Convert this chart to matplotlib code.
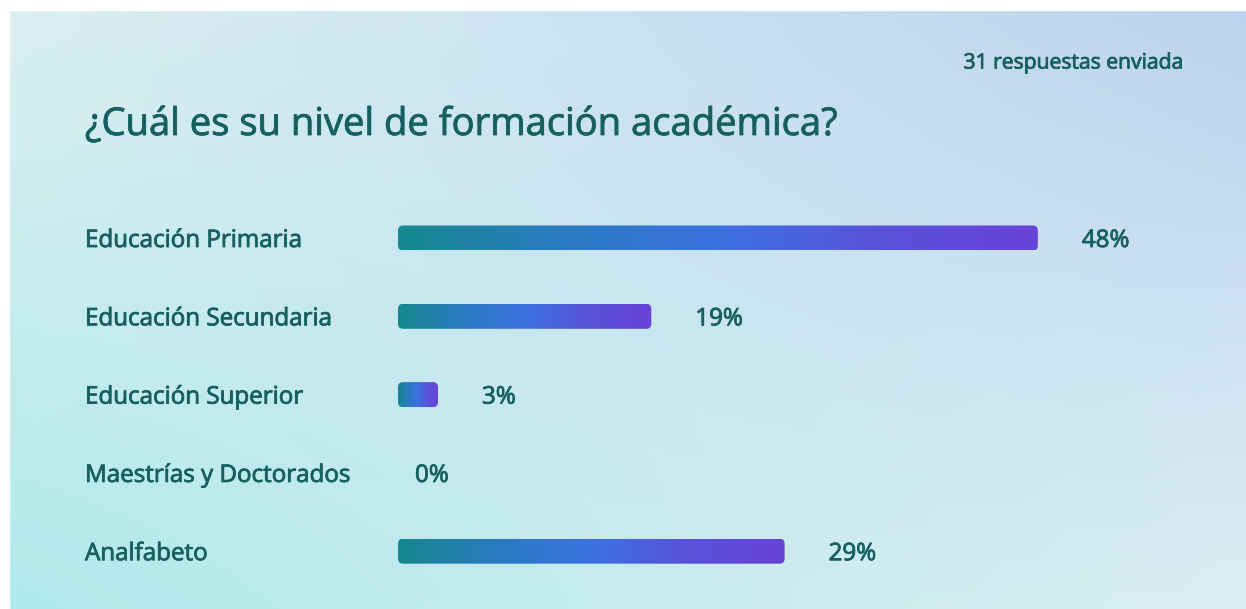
import matplotlib.pyplot as plt
import matplotlib.patheffects as pe
import numpy as np
from matplotlib.patches import FancyBboxPatch, Rectangle
from matplotlib.colors import LinearSegmentedColormap

categories = ["Educación Primaria", "Educación Secundaria", "Educación Superior",
              "Maestrías y Doctorados", "Analfabeto"]
percentages = [48, 19, 3, 0, 29]
title = "¿Cuál es su nivel de formación académica?"
responses_note = "31 respuestas enviada"

W, H = 1246, 609
text_color = "#176060"
plt.rcParams['font.family'] = ['Open Sans', 'DejaVu Sans']
# a thin stroke gives the regular face a slightly heavier, "medium" look
medium = [pe.withStroke(linewidth=0.6, foreground=text_color)]

fig = plt.figure(figsize=(W / 100, H / 100), dpi=100)

# background: soft four-corner gradient, white strip at top and left
bg = fig.add_axes([0, 0, 1, 1])
bg.set_axis_off()
corners = np.array([[[0xdc, 0xf0, 0xf2], [0xbc, 0xd2, 0xee]],   # top-left, top-right
                    [[0xb0, 0xe9, 0xea], [0xdc, 0xef, 0xf3]]]) / 255.0  # bottom-left, bottom-right
ty = np.linspace(0, 1, 200)[:, None, None]
tx = np.linspace(0, 1, 400)[None, :, None]
grad = ((1 - ty) * ((1 - tx) * corners[0, 0] + tx * corners[0, 1])
        + ty * ((1 - tx) * corners[1, 0] + tx * corners[1, 1]))
bg.imshow(grad, extent=(0, W, H, 0), aspect='auto', interpolation='bicubic')
bg.add_patch(Rectangle((0, 0), W, 10, color='white'))
bg.add_patch(Rectangle((0, 0), 9, H, color='white'))
bg.set_xlim(0, W)
bg.set_ylim(H, 0)

bg.text(85, 125, title, fontsize=27.5, color=text_color,
        va='center', ha='left', path_effects=medium)
bg.text(1183, 63, responses_note, fontsize=15.2, color=text_color,
        va='center', ha='right', path_effects=medium)

# bar area
x0_px, px_per_pct = 398, 13.33
xmax = 60
row_px = 78.3
top_px = 238 - row_px / 2
ax = fig.add_axes([x0_px / W, 1 - (top_px + row_px * 5) / H,
                   px_per_pct * xmax / W, row_px * 5 / H])
ax.set_axis_off()
ax.set_xlim(0, xmax)
ax.set_ylim(len(categories) - 0.5, -0.5)

bar_cmap = LinearSegmentedColormap.from_list(
    "bar", ["#16898e", "#2a7bc0", "#3b72e0", "#5a52da", "#6844d6"])
bar_h = 25 / row_px
r_x = 5 / px_per_pct
aspect = (5 / row_px) / r_x
ramp = np.linspace(0, 1, 256)[None, :]
dy = 3 / row_px  # text sits a little lower than the bar centre

for i, (cat, v) in enumerate(zip(categories, percentages)):
    ax.text(-(x0_px - 85) / px_per_pct, i + dy, cat, fontsize=17.4,
            color=text_color, va='center', ha='left', path_effects=medium)
    if v > 0:
        patch = FancyBboxPatch((0, i - bar_h / 2), v, bar_h,
                               boxstyle=f"round,pad=0,rounding_size={r_x}",
                               mutation_aspect=aspect, facecolor='none', edgecolor='none')
        ax.add_patch(patch)
        im = ax.imshow(ramp, cmap=bar_cmap, aspect='auto',
                       extent=(0, v, i + bar_h / 2, i - bar_h / 2))
        im.set_clip_path(patch)
        lx = v + 44 / px_per_pct
    else:
        lx = 17 / px_per_pct
    ax.text(lx, i + dy, f"{v}%", fontsize=17.4, color=text_color,
            va='center', ha='left', path_effects=medium)

ax.set_xlim(0, xmax)
ax.set_ylim(len(categories) - 0.5, -0.5)

fig.savefig("out.png", dpi=100)
